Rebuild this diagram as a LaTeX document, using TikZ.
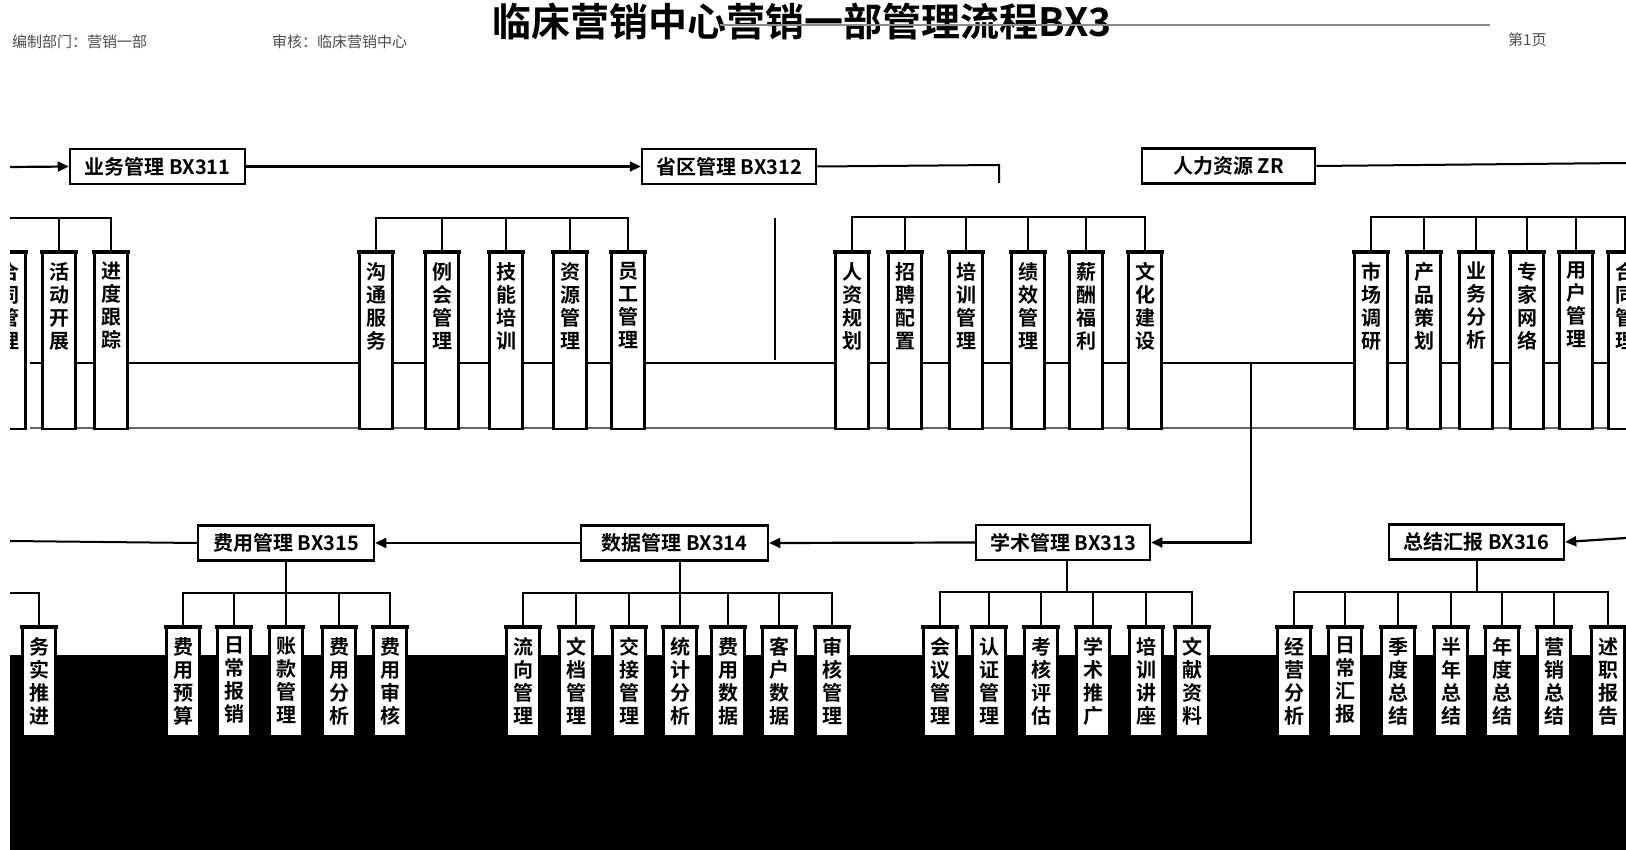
\documentclass[tikz,border=0pt]{standalone}
\usepackage{fontspec}
\setmainfont{Liberation Sans}
\newfontfamily\cjk{Noto Sans CJK SC}[BoldFont={Noto Sans CJK SC Bold}]
\usetikzlibrary{arrows.meta}

\tikzset{
  hdr/.style={draw, line width=2.5pt, minimum height=35pt, inner sep=0pt, fill=white,
    font=\cjk\bfseries\fontsize{20}{20}\selectfont},
  colrect/.style={draw, line width=2.2pt, minimum width=33pt, fill=white, inner sep=0pt},
  coltext/.style={font=\cjk\bfseries\fontsize{20}{23}\selectfont, align=center, inner sep=0pt},
  link/.style={line width=2pt},
  flow/.style={line width=2.2pt, -{Triangle[length=11pt,width=10pt]}},
  smalltxt/.style={font=\cjk\fontsize{15}{15}\selectfont, inner sep=0pt, text=black!70},
}

\newcommand\colbox[5]{%
  \node[colrect, minimum height={(#4)-(#3)}, anchor=north] (#1) at (#2,#3) {};
  \draw[line width=4pt] ([xshift=-1pt]#1.north west) -- ([xshift=1pt]#1.north east);
  \node[coltext, anchor=north] (#1t) at (#2,#3+10) {#5};
}

\begin{document}
\begin{tikzpicture}[x=1pt,y=-1pt]
\useasboundingbox[fill=white] (0,0) rectangle (1626,850);
\clip (10,0) rectangle (1626,850);

% ---------- title area ----------
\node[anchor=base west, inner sep=0pt, font=\cjk\bfseries\fontsize{39}{39}\selectfont] (title) at (492,37) {临床营销中心营销一部管理流程BX3};
\coordinate (rulea) at (720,25);
\coordinate (ruleb) at (1490,25);
\draw[line width=2.5pt, black!45] (rulea) -- (ruleb);
\node[smalltxt, anchor=west] (lt1) at (12,42) {编制部门：营销一部};
\node[smalltxt, anchor=west] (lt2) at (272,42) {审核：临床营销中心};
\node[smalltxt, anchor=west] (rt1) at (1508,40) {第1页};

% ---------- row 1 headers ----------
\node[hdr, minimum width=175pt] (h1) at (157.5,166.5) {业务管理 BX311};
\node[hdr, minimum width=174pt] (h2) at (729,166.5) {省区管理 BX312};
\node[hdr, minimum width=173pt] (h3) at (1228.5,166) {人力资源 ZR};

\coordinate (s0) at (10,167);
\draw[flow] (s0) -- (h1.west);
\draw[flow] (h1.east) -- (h2.west);
\coordinate (k1) at (999,165);
\coordinate (k2) at (999,183);
\draw[link] (h2.east) -- (k1) -- (k2);
\coordinate (r1) at (1626,163);
\draw[link] (h3.east) -- (r1);

% ---------- row 2 background lines ----------
\coordinate (ga) at (30,363);  \coordinate (gb) at (1626,363);
\coordinate (gc) at (30,428);  \coordinate (gd) at (1626,428);
\draw[line width=1.6pt] (ga) -- (gb);
\draw[line width=1.6pt, black!60] (gc) -- (gd);
\coordinate (v1) at (775,218);
\coordinate (v2) at (775,360);
\draw[link] (v1) -- (v2);

% ---------- row 2 columns ----------
\colbox{a1}{9}{252}{428}{合\\同\\管\\理}
\colbox{a2}{59}{252}{428}{活\\动\\开\\展}
\colbox{a3}{111}{252}{428}{进\\度\\跟\\踪}
\draw[link] (a1.north) -- ++(0,-34) -| (a3.north);
\draw[link] (a2.north) -- ++(0,-34);

\colbox{b1}{376}{252}{428}{沟\\通\\服\\务}
\colbox{b2}{442}{252}{428}{例\\会\\管\\理}
\colbox{b3}{506}{252}{428}{技\\能\\培\\训}
\colbox{b4}{570}{252}{428}{资\\源\\管\\理}
\colbox{b5}{628}{252}{428}{员\\工\\管\\理}
\draw[link] (b1.north) -- ++(0,-34) -| (b5.north);
\foreach \n in {b2,b3,b4} \draw[link] (\n.north) -- ++(0,-34);

\colbox{c1}{852}{252}{428}{人\\资\\规\\划}
\colbox{c2}{905}{252}{428}{招\\聘\\配\\置}
\colbox{c3}{966}{252}{428}{培\\训\\管\\理}
\colbox{c4}{1028}{252}{428}{绩\\效\\管\\理}
\colbox{c5}{1086}{252}{428}{薪\\酬\\福\\利}
\colbox{c6}{1145}{252}{428}{文\\化\\建\\设}
\draw[link] (c1.north) -- ++(0,-35) -| (c6.north);
\foreach \n in {c2,c3,c4,c5} \draw[link] (\n.north) -- ++(0,-35);

\colbox{d1}{1371}{252}{428}{市\\场\\调\\研}
\colbox{d2}{1424}{252}{428}{产\\品\\策\\划}
\colbox{d3}{1476}{252}{428}{业\\务\\分\\析}
\colbox{d4}{1527}{252}{428}{专\\家\\网\\络}
\colbox{d5}{1576}{252}{428}{用\\户\\管\\理}
\colbox{d6}{1625}{252}{428}{合\\同\\管\\理}
\draw[link] (d1.north) -- ++(0,-35) -| (d6.north);
\foreach \n in {d2,d3,d4,d5} \draw[link] (\n.north) -- ++(0,-35);

% ---------- row 3 headers ----------
\node[hdr, minimum width=176pt] (f1) at (286,543) {费用管理 BX315};
\node[hdr, minimum width=187pt] (f2) at (674.5,543) {数据管理 BX314};
\node[hdr, minimum width=174pt] (f3) at (1063,542.5) {学术管理 BX313};
\node[hdr, minimum width=175pt] (f4) at (1476.5,542) {总结汇报 BX316};

\coordinate (j1) at (1251,363);
\coordinate (j2) at (1251,542.5);
\draw[flow] (j1) -- (j2) -- (f3.east);
\draw[flow] (f3.west) -- (f2.east);
\draw[flow] (f2.west) -- (f1.east);
\coordinate (l0) at (10,541);
\draw[link] (f1.west) -- (l0);
\coordinate (r3) at (1626,538);
\draw[flow] (r3) -- (f4.east);

% ---------- bottom dark band ----------
\fill[black] (10,655) rectangle (1626,850);

% ---------- row 3 columns ----------
\coordinate (lb) at (10,593);
\colbox{e0}{39}{627}{735}{务\\实\\推\\进}
\draw[link] (lb) -| (e0.north);

\colbox{e1}{183}{627}{735}{费\\用\\预\\算}
\colbox{e2}{234}{627}{735}{日\\常\\报\\销}
\colbox{e3}{286}{627}{735}{账\\款\\管\\理}
\colbox{e4}{339}{627}{735}{费\\用\\分\\析}
\colbox{e5}{390}{627}{735}{费\\用\\审\\核}
\draw[link] (f1.south) -- (f1.south |- e3.north);
\draw[link] (e1.north) -- ++(0,-34) -| (e5.north);
\foreach \n in {e2,e4} \draw[link] (\n.north) -- ++(0,-34);

\colbox{g1}{523}{627}{735}{流\\向\\管\\理}
\colbox{g2}{576}{627}{735}{文\\档\\管\\理}
\colbox{g3}{629}{627}{735}{交\\接\\管\\理}
\colbox{g4}{680}{627}{735}{统\\计\\分\\析}
\colbox{g5}{728}{627}{735}{费\\用\\数\\据}
\colbox{g6}{779}{627}{735}{客\\户\\数\\据}
\colbox{g7}{832}{627}{735}{审\\核\\管\\理}
\draw[link] (f2.south -| g4.north) -- (g4.north);
\draw[link] (g1.north) -- ++(0,-34) -| (g7.north);
\foreach \n in {g2,g3,g5,g6} \draw[link] (\n.north) -- ++(0,-34);

\colbox{m1}{940}{627}{735}{会\\议\\管\\理}
\colbox{m2}{989}{627}{735}{认\\证\\管\\理}
\colbox{m3}{1041}{627}{735}{考\\核\\评\\估}
\colbox{m4}{1093}{627}{735}{学\\术\\推\\广}
\colbox{m5}{1146}{627}{735}{培\\训\\讲\\座}
\colbox{m6}{1192}{627}{735}{文\\献\\资\\料}
\coordinate (mt) at (1067,593);
\draw[link] (f3.south -| mt) -- (mt);
\draw[link] (m1.north) -- ++(0,-35) -| (m6.north);
\foreach \n in {m2,m3,m4,m5} \draw[link] (\n.north) -- ++(0,-35);

\colbox{n1}{1294}{627}{735}{经\\营\\分\\析}
\colbox{n2}{1345}{627}{735}{日\\常\\汇\\报}
\colbox{n3}{1398}{627}{735}{季\\度\\总\\结}
\colbox{n4}{1451}{627}{735}{半\\年\\总\\结}
\colbox{n5}{1502}{627}{735}{年\\度\\总\\结}
\colbox{n6}{1554}{627}{735}{营\\销\\总\\结}
\colbox{n7}{1608}{627}{735}{述\\职\\报\\告}
\coordinate (nt) at (1477,593);
\draw[link] (f4.south -| nt) -- (nt);
\draw[link] (n1.north) -- ++(0,-35) -| (n7.north);
\foreach \n in {n2,n3,n4,n5,n6} \draw[link] (\n.north) -- ++(0,-35);
\end{tikzpicture}
\end{document}
